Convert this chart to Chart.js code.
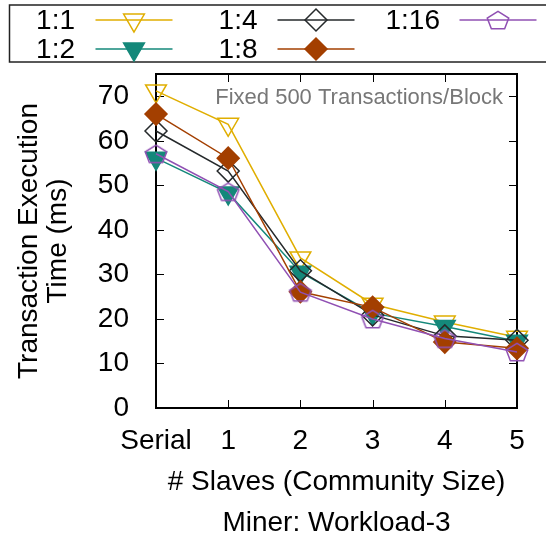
<!DOCTYPE html>
<html>
<head>
<meta charset="utf-8">
<script src="https://cdn.jsdelivr.net/npm/chart.js@4"></script>
<style>
html,body{margin:0;padding:0;background:#fff;}
canvas{display:block;}
</style>
</head>
<body>
<canvas id="c" width="546" height="540"></canvas>
<script>
// ---- data ----
const categories = ['Serial', '1', '2', '3', '4', '5'];
const seriesNames = ['1:1', '1:2', '1:4', '1:8', '1:16'];
const r1_1  = [71.2, 63.7, 33.7, 23.3, 19.3, 15.9];
const r1_2  = [56.1, 48.3, 30.5, 21.3, 18.3, 15.0];
const r1_4  = [62.2, 53.2, 30.8, 20.9, 16.2, 15.2];
const r1_8  = [66.0, 56.1, 26.1, 22.6, 14.8, 13.4];
const r1_16 = [57.1, 48.6, 26.0, 20.0, 15.6, 12.6];
const yTicks = [0, 10, 20, 30, 40, 50, 60, 70];
const xTitle = '# Slaves (Community Size)';
const yTitle = ['Transaction Execution', 'Time (ms)'];
const bottomTitle = 'Miner: Workload-3';
const note = 'Fixed 500 Transactions/Block';

// ---- styles ----
const FONT = "'Liberation Sans', Arial, Helvetica, sans-serif";
const colors = ['#e0ae00', '#14887a', '#25292b', '#a33f00', '#9050b3'];

function makePentagon(color) {
  const c = document.createElement('canvas');
  c.width = 28; c.height = 28;
  const g = c.getContext('2d');
  const R = 11.3, sy = 0.86, cx = 14, cy = 15;
  g.beginPath();
  for (let i = 0; i < 5; i++) {
    const a = -Math.PI / 2 + i * 2 * Math.PI / 5;
    const px = cx + R * Math.cos(a), py = cy + R * Math.sin(a) * sy;
    if (i === 0) g.moveTo(px, py); else g.lineTo(px, py);
  }
  g.closePath();
  g.strokeStyle = color; g.lineWidth = 1.5; g.stroke();
  return c;
}
const pent = makePentagon(colors[4]);

const markers = [
  {pointStyle: 'triangle', rotation: 180, radius: 12, fill: false},
  {pointStyle: 'triangle', rotation: 180, radius: 12, fill: true},
  {pointStyle: 'rectRot', rotation: 0, radius: 11, fill: false},
  {pointStyle: 'rectRot', rotation: 0, radius: 11, fill: true},
  {pointStyle: pent, rotation: 0, radius: 11, fill: false}
];
const seriesData = [r1_1, r1_2, r1_4, r1_8, r1_16];

const datasets = seriesNames.map((name, i) => ({
  label: name,
  data: seriesData[i],
  borderColor: colors[i],
  backgroundColor: colors[i],
  borderWidth: 1.5,
  pointStyle: markers[i].pointStyle,
  pointRotation: markers[i].rotation,
  pointRadius: markers[i].radius,
  pointHoverRadius: markers[i].radius,
  pointBorderWidth: 1.5,
  pointBorderColor: colors[i],
  pointBackgroundColor: markers[i].fill ? colors[i] : 'rgba(0,0,0,0)',
  tension: 0,
  clip: false,
  order: seriesNames.length - i
}));

// ---- plugins ----
const framePlugin = {
  id: 'frame',
  beforeDatasetsDraw(chart) {
    const {ctx, chartArea: a, scales} = chart;
    ctx.save();
    ctx.strokeStyle = '#000';
    ctx.lineWidth = 1;
    const tl = 8;
    scales.y.ticks.forEach((t, i) => {
      const py = Math.round(scales.y.getPixelForTick(i)) + 0.5;
      ctx.beginPath();
      ctx.moveTo(a.left, py); ctx.lineTo(a.left + tl, py);
      ctx.moveTo(a.right, py); ctx.lineTo(a.right - tl, py);
      ctx.stroke();
    });
    scales.x.ticks.forEach((t, i) => {
      const px = Math.round(scales.x.getPixelForTick(i)) + 0.5;
      ctx.beginPath();
      ctx.moveTo(px, a.bottom); ctx.lineTo(px, a.bottom - tl);
      ctx.moveTo(px, a.top); ctx.lineTo(px, a.top + tl);
      ctx.stroke();
    });
    ctx.lineWidth = 2;
    ctx.strokeRect(a.left, a.top, a.right - a.left, a.bottom - a.top);
    // annotation
    ctx.fillStyle = '#777';
    ctx.font = '22px ' + FONT;
    ctx.textAlign = 'right';
    ctx.textBaseline = 'middle';
    ctx.fillText(note, a.right - 14, a.top + 24);
    ctx.restore();
  }
};

const textPlugin = {
  id: 'gpText',
  afterDraw(chart) {
    const ctx = chart.ctx;
    const a = chart.chartArea;
    ctx.save();
    // bottom title
    ctx.fillStyle = '#000';
    ctx.font = '28px ' + FONT;
    ctx.textAlign = 'center';
    ctx.textBaseline = 'middle';
    ctx.fillText(bottomTitle, (a.left + a.right) / 2, 523);
    // legend
    ctx.strokeStyle = '#222';
    ctx.lineWidth = 1.5;
    ctx.strokeRect(9.5, 5, 560, 57);
    ctx.textAlign = 'right';
    chart.data.datasets.forEach((ds, k) => {
      const col = Math.floor(k / 2), row = k % 2;
      const textRight = 75 + col * 182.5;
      const lx0 = 95.5 + col * 182, lx1 = lx0 + 77;
      const y = 20 + row * 29;
      ctx.fillStyle = '#000';
      ctx.fillText(ds.label, textRight, y + 1);
      ctx.strokeStyle = ds.borderColor;
      ctx.lineWidth = 1.5;
      ctx.beginPath(); ctx.moveTo(lx0, y); ctx.lineTo(lx1, y); ctx.stroke();
      ctx.fillStyle = ds.pointBackgroundColor;
      ctx.strokeStyle = ds.pointBorderColor;
      Chart.helpers.drawPoint(ctx, {
        pointStyle: ds.pointStyle,
        rotation: ds.pointRotation,
        radius: ds.pointRadius,
        borderWidth: 1.5
      }, (lx0 + lx1) / 2, y);
    });
    ctx.restore();
  }
};

new Chart(document.getElementById('c'), {
  type: 'line',
  data: {labels: categories, datasets},
  plugins: [framePlugin, textPlugin],
  options: {
    responsive: false,
    animation: false,
    devicePixelRatio: 1,
    layout: {padding: {top: 74, right: 29, left: 0, bottom: 33.6}},
    plugins: {
      legend: {display: false},
      tooltip: {enabled: false},
      title: {display: false}
    },
    scales: {
      x: {
        type: 'category',
        offset: false,
        grid: {display: false},
        border: {display: false},
        ticks: {
          color: '#000',
          font: {family: FONT, size: 28},
          padding: 8,
          maxRotation: 0,
          autoSkip: false
        },
        title: {
          display: true,
          text: xTitle,
          color: '#000',
          font: {family: FONT, size: 28, lineHeight: 1.2},
          padding: {top: 0, bottom: 7}
        },
        afterFit(s) { s.height = 98.4; }
      },
      y: {
        min: 0,
        max: 75,
        grid: {display: false},
        border: {display: false},
        afterBuildTicks(s) { s.ticks = yTicks.map(v => ({value: v})); },
        ticks: {
          color: '#000',
          font: {family: FONT, size: 28},
          padding: 19
        },
        title: {
          display: true,
          text: yTitle,
          color: '#000',
          font: {family: FONT, size: 28, lineHeight: 1.05},
          padding: {top: 14.5, bottom: 0}
        },
        afterFit(s) { s.width = 156; }
      }
    }
  }
});
</script>
</body>
</html>
